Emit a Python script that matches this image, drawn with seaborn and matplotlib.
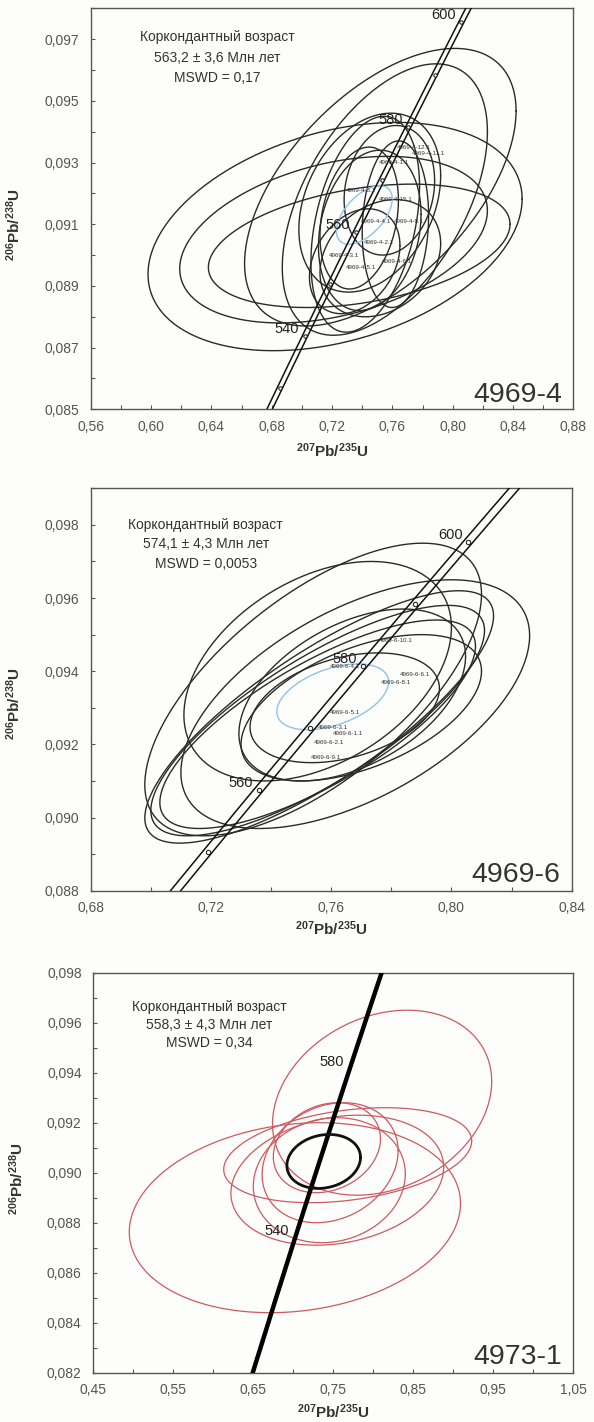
import numpy as np
import matplotlib
matplotlib.use("Agg")
import matplotlib.pyplot as plt
import seaborn as sns
from matplotlib.ticker import FixedLocator, FuncFormatter

sns.set_theme(style="white")
plt.rcParams['font.family'] = ['Liberation Sans', 'DejaVu Sans']
plt.rcParams['mathtext.fontset'] = 'custom'
plt.rcParams['mathtext.rm'] = 'Liberation Sans'
plt.rcParams['mathtext.bf'] = 'Liberation Sans:bold'
plt.rcParams['mathtext.it'] = 'Liberation Sans:italic'

# decay constants (1/yr) used for the concordia curve
LAMBDA_238 = 1.55125e-10
LAMBDA_235 = 9.8485e-10

# ---------------- Panel 1: 4969-4 ----------------
p1_name = "4969-4"
p1_text = ["Коркондантный возраст", "563,2 ± 3,6 Млн лет", "MSWD = 0,17"]
p1_cx = [0.722, 0.721, 0.738, 0.752, 0.755, 0.745, 0.758, 0.745, 0.752, 0.738, 0.762, 0.735, 0.742]
p1_cy = [0.0906, 0.0905, 0.0903, 0.0922, 0.0918, 0.0917, 0.0921, 0.0908, 0.0899, 0.0912, 0.0910, 0.0898, 0.0910]
p1_sx = [0.124, 0.102, 0.100, 0.090, 0.068, 0.047, 0.030, 0.034, 0.040, 0.026, 0.022, 0.030, 0.036]
p1_sy = [0.0037, 0.0027, 0.0020, 0.0045, 0.0044, 0.0029, 0.0021, 0.0026, 0.0019, 0.0023, 0.0027, 0.0017, 0.0035]
p1_rho = [0.33, 0.35, 0.35, 0.55, 0.50, 0.30, 0.15, 0.20, 0.25, 0.25, 0.10, 0.30, 0.35]
p1_mean = (0.7414, 0.0913, 0.0185, 0.00095, 0.55)
p1_lab = ["4969-4-12.1", "4969-4-11.1", "4969-4-1.1", "4969-4-8.1", "4969-4-15.1",
          "4969-4-4.1", "4969-4-9.1", "4969-4-2.1", "4969-4-3.1", "4969-4-6.1", "4969-4-5.1"]
p1_lab_x = [0.763, 0.773, 0.751, 0.729, 0.751, 0.739, 0.761, 0.741, 0.718, 0.753, 0.729]
p1_lab_y = [0.0935, 0.0933, 0.0930, 0.0921, 0.0918, 0.0911, 0.0911, 0.0904, 0.0900, 0.0898, 0.0896]
p1_ages = [540, 560, 580, 600]
p1_xlim = (0.56, 0.88)
p1_ylim = (0.085, 0.098)
p1_xticks = [0.56, 0.60, 0.64, 0.68, 0.72, 0.76, 0.80, 0.84, 0.88]
p1_yticks = [0.085, 0.087, 0.089, 0.091, 0.093, 0.095, 0.097]

# ---------------- Panel 2: 4969-6 ----------------
p2_name = "4969-6"
p2_text = ["Коркондантный возраст", "574,1 ± 4,3 Млн лет", "MSWD = 0,0053"]
p2_cx = [0.754, 0.768, 0.756, 0.7555, 0.7555, 0.7555, 0.767, 0.7645, 0.770]
p2_cy = [0.0935, 0.0931, 0.09275, 0.09265, 0.09255, 0.0940, 0.09335, 0.0930, 0.0930]
p2_sx = [0.056, 0.058, 0.058, 0.0555, 0.0525, 0.0445, 0.0377, 0.0315, 0.040]
p2_sy = [0.0040, 0.0034, 0.00345, 0.00315, 0.00285, 0.0030, 0.00235, 0.0015, 0.0020]
p2_rho = [0.65, 0.55, 0.80, 0.78, 0.75, 0.40, 0.45, 0.35, 0.50]
p2_mean = (0.7605, 0.0933, 0.0186, 0.0009, 0.45)
p2_lab = ["4969-6-10.1", "4969-6-4.1", "4969-6-6.1", "4969-6-8.1", "4969-6-5.1",
          "4969-6-3.1", "4969-6-1.1", "4969-6-2.1", "4969-6-9.1"]
p2_lab_x = [0.7758, 0.7594, 0.7827, 0.7764, 0.7594, 0.7556, 0.7606, 0.7543, 0.7531]
p2_lab_y = [0.09485, 0.09414, 0.09392, 0.09369, 0.09287, 0.09246, 0.09229, 0.09204, 0.09165]
p2_ages = [560, 580, 600]
p2_xlim = (0.68, 0.84)
p2_ylim = (0.088, 0.099)
p2_xticks = [0.68, 0.72, 0.76, 0.80, 0.84]
p2_yticks = [0.088, 0.090, 0.092, 0.094, 0.096, 0.098]

# ---------------- Panel 3: 4973-1 ----------------
p3_name = "4973-1"
p3_text = ["Коркондантный возраст", "558,3 ± 4,3 Млн лет", "MSWD = 0,34"]
p3_cx = [0.811, 0.702, 0.768, 0.755, 0.746, 0.742, 0.745]
p3_cy = [0.0928, 0.0882, 0.0907, 0.0897, 0.0904, 0.0910, 0.0897]
p3_sx = [0.137, 0.207, 0.155, 0.133, 0.085, 0.067, 0.095]
p3_sy = [0.0037, 0.0038, 0.0019, 0.0026, 0.0024, 0.0018, 0.0025]
p3_rho = [0.23, 0.15, 0.30, 0.20, 0.20, 0.20, 0.10]
p3_mean = (0.738, 0.09045, 0.046, 0.00108, 0.15)
p3_ages = [540, 580]
p3_xlim = (0.45, 1.05)
p3_ylim = (0.082, 0.098)
p3_xticks = [0.45, 0.55, 0.65, 0.75, 0.85, 0.95, 1.05]
p3_yticks = [0.082, 0.084, 0.086, 0.088, 0.090, 0.092, 0.094, 0.096, 0.098]

BG = "#fdfdfb"
W, H = 594, 1422
fig = plt.figure(figsize=(W / 100, H / 100), dpi=100, facecolor=BG)


def ell_pts(cx, cy, sx, sy, rho, n=240):
    t = np.linspace(0, 2 * np.pi, n)
    x = cx + sx * np.cos(t)
    y = cy + sy * (rho * np.cos(t) + np.sqrt(1 - rho ** 2) * np.sin(t))
    return x, y


def conc(age_ma):
    a = np.asarray(age_ma, dtype=float) * 1e6
    return np.exp(LAMBDA_235 * a) - 1, np.exp(LAMBDA_238 * a) - 1


def comma(fmt):
    return FuncFormatter(lambda v, p: (fmt % v).replace('.', ','))


def minors(ticks):
    t = np.asarray(ticks)
    return list((t[:-1] + t[1:]) / 2)


def setup(ax, xlim, ylim, xticks, yticks, xfmt, yfmt, ylab_y, xlab_y):
    ax.set_facecolor(BG)
    ax.set_xlim(*xlim)
    ax.set_ylim(*ylim)
    ax.xaxis.set_major_locator(FixedLocator(xticks))
    ax.yaxis.set_major_locator(FixedLocator(yticks))
    ax.xaxis.set_minor_locator(FixedLocator(minors(xticks)))
    ym = minors(yticks)
    if yticks[-1] < ylim[1]:
        ym.append(yticks[-1] + (yticks[1] - yticks[0]) / 2)
    ax.yaxis.set_minor_locator(FixedLocator(ym))
    ax.xaxis.set_major_formatter(comma(xfmt))
    ax.yaxis.set_major_formatter(comma(yfmt))
    ax.tick_params(which='both', direction='in', length=3, width=0.8, color='#555555',
                   bottom=True, left=True, top=False, right=False)
    ax.tick_params(axis='x', which='major', labelsize=10, labelcolor='#555555', pad=7.5)
    ax.tick_params(axis='y', which='major', labelsize=10, labelcolor='#555555', pad=8.4)
    for s in ax.spines.values():
        s.set_color('#555555')
        s.set_linewidth(1.0)
    ax.set_xlabel(r'$\mathbf{^{207}Pb/^{235}U}$', fontsize=11, color='#333333')
    ax.set_ylabel(r'$\mathbf{^{206}Pb/^{238}U}$', fontsize=11, color='#333333')
    ax.xaxis.set_label_coords(0.5, xlab_y)
    ax.yaxis.set_label_coords(-0.141, ylab_y)


def draw_concordia(ax, band, lw, msize):
    ages = np.linspace(400, 720, 400)
    cx, cy = conc(ages)
    if band > 0:
        for off in (-band, band):
            sns.lineplot(x=cx + off, y=cy, sort=False, estimator=None, ax=ax,
                         color='#111111', lw=lw, zorder=5)
        if msize > 0:
            mx, my = conc(np.arange(500, 660, 10))
            ax.scatter(mx, my, s=msize, facecolor='white', edgecolor='#111111',
                       linewidth=0.7, zorder=6)
    else:
        sns.lineplot(x=cx, y=cy, sort=False, estimator=None, ax=ax,
                     color='#000000', lw=lw, zorder=5)


def age_labels(ax, ages):
    for a in ages:
        x, y = conc(a)
        ax.annotate(str(a), (x, y), xytext=(-4, 5), textcoords='offset points',
                    ha='right', va='center', fontsize=10.5, color='#222222', zorder=7)


def draw_ellipses(ax, cxs, cys, sxs, sys_, rhos, color, lw):
    for cx, cy, sx, sy, r in zip(cxs, cys, sxs, sys_, rhos):
        x, y = ell_pts(cx, cy, sx, sy, r)
        ax.plot(x, y, color=color, lw=lw, zorder=3)


def info(ax, lines, xc, ytop, step):
    for i, t in enumerate(lines):
        ax.text(xc, ytop - i * step, t, transform=ax.transAxes, ha='center', va='center',
                fontsize=10, color='#333333', zorder=8)


def name(ax, s, yb):
    ax.text(0.977, yb, s, transform=ax.transAxes, ha='right', va='baseline',
            fontsize=20.5, color='#333333', zorder=8)


# ---- panel 1
ax1 = fig.add_axes([90.7 / W, 1 - 409.3 / H, 482.7 / W, 401 / H])
draw_ellipses(ax1, p1_cx, p1_cy, p1_sx, p1_sy, p1_rho, '#2a2a2a', 1.0)
mx, my = ell_pts(*p1_mean)
ax1.plot(mx, my, color='#8fc3e6', lw=1.0, zorder=4)
for t, x, y in zip(p1_lab, p1_lab_x, p1_lab_y):
    ax1.text(x, y, t, fontsize=4.5, color='#333333', ha='left', va='center', zorder=6)
draw_concordia(ax1, 0.0018, 1.1, 6)
age_labels(ax1, p1_ages)
setup(ax1, p1_xlim, p1_ylim, p1_xticks, p1_yticks, '%.2f', '%.3f', 0.461, -0.081)
info(ax1, p1_text, 0.263, 0.929, 0.052)
name(ax1, p1_name, 0.018)

# ---- panel 2
ax2 = fig.add_axes([90.7 / W, 1 - 890.7 / H, 481 / W, 402.4 / H])
draw_ellipses(ax2, p2_cx, p2_cy, p2_sx, p2_sy, p2_rho, '#2a2a2a', 1.0)
mx, my = ell_pts(*p2_mean)
ax2.plot(mx, my, color='#8fc3e6', lw=1.0, zorder=4)
for t, x, y in zip(p2_lab, p2_lab_x, p2_lab_y):
    ax2.text(x, y, t, fontsize=4.5, color='#333333', ha='left', va='center', zorder=6)
draw_concordia(ax2, 0.0017, 1.1, 10)
age_labels(ax2, p2_ages)
setup(ax2, p2_xlim, p2_ylim, p2_xticks, p2_yticks, '%.2f', '%.3f', 0.465, -0.071)
info(ax2, p2_text, 0.239, 0.909, 0.048)
name(ax2, p2_name, 0.022)

# ---- panel 3
ax3 = fig.add_axes([93.3 / W, 1 - 1372.7 / H, 480 / W, 400 / H])
draw_ellipses(ax3, p3_cx, p3_cy, p3_sx, p3_sy, p3_rho, '#cc5a60', 0.9)
mx, my = ell_pts(*p3_mean)
ax3.plot(mx, my, color='#111111', lw=2.0, zorder=6)
draw_concordia(ax3, 0.0, 3.2, 0)
age_labels(ax3, p3_ages)
setup(ax3, p3_xlim, p3_ylim, p3_xticks, p3_yticks, '%.2f', '%.3f', 0.4855, -0.074)
info(ax3, p3_text, 0.241, 0.914, 0.045)
name(ax3, p3_name, 0.022)

fig.savefig("out.png", dpi=100, facecolor=BG)
